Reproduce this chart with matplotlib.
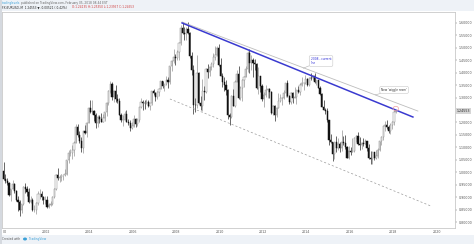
import numpy as np
import pandas as pd
import matplotlib
matplotlib.use("Agg")
import matplotlib.pyplot as plt
import matplotlib.transforms as mtransforms
from matplotlib.patches import Rectangle, Ellipse

# EURUSD monthly candles, Jan 2000 - Feb 2018
dates = pd.date_range("2000-01-01", "2018-02-01", freq="MS")

opens = [
    1.007, 0.971, 0.965, 0.956, 0.910, 0.933, 0.953, 0.926, 0.887, 0.882, 0.848, 0.872,
    0.940, 0.931, 0.921, 0.880, 0.887, 0.847, 0.850, 0.877, 0.911, 0.911, 0.900, 0.888,
    0.890, 0.859, 0.868, 0.873, 0.901, 0.934, 0.987, 0.978, 0.982, 0.987, 0.989, 0.995,
    1.049, 1.077, 1.078, 1.091, 1.117, 1.180, 1.149, 1.124, 1.097, 1.165, 1.158, 1.199,
    1.259, 1.244, 1.245, 1.230, 1.196, 1.221, 1.216, 1.203, 1.218, 1.243, 1.277, 1.327,
    1.356, 1.304, 1.326, 1.296, 1.287, 1.230, 1.210, 1.212, 1.234, 1.203, 1.199, 1.179,
    1.184, 1.215, 1.193, 1.212, 1.262, 1.281, 1.279, 1.277, 1.281, 1.268, 1.277, 1.325,
    1.320, 1.303, 1.323, 1.335, 1.366, 1.345, 1.354, 1.369, 1.364, 1.426, 1.448, 1.464,
    1.459, 1.484, 1.518, 1.579, 1.561, 1.555, 1.575, 1.561, 1.467, 1.409, 1.272, 1.270,
    1.397, 1.280, 1.267, 1.325, 1.323, 1.415, 1.403, 1.424, 1.434, 1.464, 1.472, 1.500,
    1.433, 1.387, 1.362, 1.351, 1.330, 1.229, 1.222, 1.305, 1.267, 1.363, 1.394, 1.299,
    1.338, 1.369, 1.381, 1.416, 1.481, 1.438, 1.450, 1.439, 1.436, 1.339, 1.386, 1.346,
    1.296, 1.309, 1.332, 1.334, 1.324, 1.237, 1.267, 1.231, 1.258, 1.286, 1.297, 1.299,
    1.319, 1.358, 1.306, 1.282, 1.317, 1.300, 1.301, 1.330, 1.322, 1.352, 1.358, 1.359,
    1.374, 1.349, 1.380, 1.377, 1.387, 1.363, 1.369, 1.339, 1.313, 1.263, 1.252, 1.245,
    1.210, 1.129, 1.120, 1.073, 1.122, 1.099, 1.115, 1.098, 1.121, 1.118, 1.100, 1.057,
    1.086, 1.083, 1.087, 1.138, 1.145, 1.113, 1.110, 1.117, 1.115, 1.124, 1.098, 1.059,
    1.052, 1.080, 1.057, 1.065, 1.090, 1.124, 1.142, 1.184, 1.191, 1.181, 1.165, 1.190,
    1.201, 1.241,
]
highs = [
    1.041, 0.993, 0.978, 0.962, 0.934, 0.969, 0.955, 0.930, 0.904, 0.888, 0.874, 0.945,
    0.958, 0.944, 0.935, 0.903, 0.898, 0.870, 0.880, 0.925, 0.931, 0.923, 0.904, 0.905,
    0.904, 0.876, 0.884, 0.905, 0.936, 0.995, 1.019, 0.989, 0.995, 0.990, 1.015, 1.050,
    1.088, 1.094, 1.109, 1.124, 1.193, 1.193, 1.167, 1.140, 1.166, 1.189, 1.200, 1.263,
    1.290, 1.290, 1.250, 1.240, 1.229, 1.232, 1.240, 1.233, 1.244, 1.281, 1.330, 1.367,
    1.363, 1.329, 1.349, 1.316, 1.297, 1.237, 1.229, 1.248, 1.252, 1.216, 1.208, 1.202,
    1.229, 1.218, 1.218, 1.264, 1.298, 1.290, 1.291, 1.296, 1.292, 1.280, 1.327, 1.336,
    1.324, 1.327, 1.337, 1.368, 1.368, 1.355, 1.385, 1.383, 1.427, 1.450, 1.497, 1.477,
    1.490, 1.522, 1.590, 1.602, 1.585, 1.585, 1.604, 1.565, 1.482, 1.431, 1.300, 1.472,
    1.401, 1.306, 1.374, 1.346, 1.418, 1.434, 1.427, 1.445, 1.478, 1.508, 1.507, 1.514,
    1.458, 1.397, 1.381, 1.372, 1.334, 1.237, 1.311, 1.333, 1.369, 1.412, 1.428, 1.347,
    1.375, 1.386, 1.425, 1.488, 1.494, 1.470, 1.458, 1.455, 1.440, 1.422, 1.387, 1.356,
    1.323, 1.349, 1.339, 1.338, 1.325, 1.269, 1.269, 1.263, 1.317, 1.314, 1.302, 1.331,
    1.360, 1.371, 1.311, 1.324, 1.324, 1.342, 1.331, 1.345, 1.358, 1.383, 1.361, 1.389,
    1.377, 1.383, 1.397, 1.392, 1.399, 1.370, 1.370, 1.345, 1.320, 1.290, 1.259, 1.257,
    1.212, 1.153, 1.122, 1.122, 1.147, 1.139, 1.121, 1.171, 1.146, 1.150, 1.105, 1.104,
    1.100, 1.139, 1.140, 1.148, 1.162, 1.143, 1.120, 1.137, 1.133, 1.127, 1.112, 1.087,
    1.082, 1.083, 1.091, 1.097, 1.127, 1.145, 1.185, 1.207, 1.209, 1.188, 1.196, 1.204,
    1.254, 1.250,
]
lows = [
    0.970, 0.957, 0.950, 0.905, 0.884, 0.931, 0.917, 0.883, 0.845, 0.823, 0.836, 0.868,
    0.918, 0.906, 0.876, 0.876, 0.843, 0.840, 0.834, 0.870, 0.893, 0.887, 0.874, 0.873,
    0.858, 0.856, 0.864, 0.870, 0.898, 0.930, 0.970, 0.962, 0.966, 0.969, 0.985, 0.989,
    1.037, 1.067, 1.054, 1.065, 1.117, 1.140, 1.116, 1.080, 1.078, 1.155, 1.140, 1.196,
    1.239, 1.236, 1.205, 1.176, 1.180, 1.199, 1.200, 1.201, 1.205, 1.226, 1.272, 1.317,
    1.290, 1.282, 1.284, 1.277, 1.230, 1.200, 1.187, 1.210, 1.200, 1.188, 1.164, 1.172,
    1.181, 1.183, 1.187, 1.203, 1.259, 1.251, 1.253, 1.274, 1.262, 1.252, 1.272, 1.311,
    1.287, 1.293, 1.306, 1.333, 1.339, 1.328, 1.350, 1.337, 1.356, 1.406, 1.441, 1.431,
    1.451, 1.450, 1.513, 1.554, 1.531, 1.530, 1.554, 1.458, 1.390, 1.233, 1.242, 1.257,
    1.274, 1.252, 1.246, 1.289, 1.318, 1.378, 1.385, 1.409, 1.421, 1.452, 1.466, 1.425,
    1.385, 1.343, 1.327, 1.312, 1.214, 1.188, 1.217, 1.266, 1.264, 1.362, 1.296, 1.292,
    1.286, 1.343, 1.381, 1.402, 1.399, 1.409, 1.384, 1.410, 1.336, 1.315, 1.322, 1.286,
    1.262, 1.303, 1.298, 1.300, 1.236, 1.229, 1.204, 1.224, 1.257, 1.281, 1.269, 1.294,
    1.303, 1.303, 1.274, 1.275, 1.279, 1.297, 1.275, 1.317, 1.311, 1.348, 1.329, 1.353,
    1.348, 1.346, 1.369, 1.370, 1.358, 1.350, 1.339, 1.310, 1.261, 1.250, 1.236, 1.203,
    1.110, 1.118, 1.046, 1.053, 1.082, 1.088, 1.081, 1.087, 1.110, 1.094, 1.056, 1.052,
    1.071, 1.081, 1.082, 1.122, 1.110, 1.091, 1.095, 1.105, 1.112, 1.085, 1.055, 1.034,
    1.034, 1.049, 1.054, 1.057, 1.084, 1.111, 1.131, 1.166, 1.173, 1.157, 1.155, 1.172,
    1.191, 1.240,
]
closes = [
    0.971, 0.965, 0.956, 0.910, 0.933, 0.953, 0.926, 0.887, 0.882, 0.848, 0.872, 0.940,
    0.931, 0.921, 0.880, 0.887, 0.847, 0.850, 0.877, 0.911, 0.911, 0.900, 0.888, 0.890,
    0.859, 0.868, 0.873, 0.901, 0.934, 0.987, 0.978, 0.982, 0.987, 0.989, 0.995, 1.049,
    1.077, 1.078, 1.091, 1.117, 1.180, 1.149, 1.124, 1.097, 1.165, 1.158, 1.199, 1.259,
    1.244, 1.245, 1.230, 1.196, 1.221, 1.216, 1.203, 1.218, 1.243, 1.277, 1.327, 1.356,
    1.304, 1.326, 1.296, 1.287, 1.230, 1.210, 1.212, 1.234, 1.203, 1.199, 1.179, 1.184,
    1.215, 1.193, 1.212, 1.262, 1.281, 1.279, 1.277, 1.281, 1.268, 1.277, 1.325, 1.320,
    1.303, 1.323, 1.335, 1.366, 1.345, 1.354, 1.369, 1.364, 1.426, 1.448, 1.464, 1.459,
    1.484, 1.518, 1.579, 1.561, 1.555, 1.575, 1.561, 1.467, 1.409, 1.272, 1.270, 1.397,
    1.280, 1.267, 1.325, 1.323, 1.415, 1.403, 1.424, 1.434, 1.464, 1.472, 1.500, 1.433,
    1.387, 1.362, 1.351, 1.330, 1.229, 1.222, 1.305, 1.267, 1.363, 1.394, 1.299, 1.338,
    1.369, 1.381, 1.416, 1.481, 1.438, 1.450, 1.439, 1.436, 1.339, 1.386, 1.346, 1.296,
    1.309, 1.332, 1.334, 1.324, 1.237, 1.267, 1.231, 1.258, 1.286, 1.297, 1.299, 1.319,
    1.358, 1.306, 1.282, 1.317, 1.300, 1.301, 1.330, 1.322, 1.352, 1.358, 1.359, 1.374,
    1.349, 1.380, 1.377, 1.387, 1.363, 1.369, 1.339, 1.313, 1.263, 1.252, 1.245, 1.210,
    1.129, 1.120, 1.073, 1.122, 1.099, 1.115, 1.098, 1.121, 1.118, 1.100, 1.057, 1.086,
    1.083, 1.087, 1.138, 1.145, 1.113, 1.110, 1.117, 1.115, 1.124, 1.098, 1.059, 1.052,
    1.080, 1.057, 1.065, 1.090, 1.124, 1.142, 1.184, 1.191, 1.181, 1.165, 1.190, 1.201,
    1.241, 1.2455,
]

# trend lines drawn on the chart (decimal year, price)
blue_line_x = [2008.27, 2018.91]
blue_line_y = [1.600, 1.222]
wiggle_line_x = [2008.27, 2019.14]
wiggle_line_y = [1.604, 1.246]
lower_line_x = [2007.71, 2019.74]
lower_line_y = [1.2945, 0.8643]

price_ticks = [1.60, 1.55, 1.50, 1.45, 1.40, 1.35, 1.30, 1.20, 1.15,
               1.10, 1.05, 1.00, 0.95, 0.90, 0.85, 0.80]
year_ticks = list(range(2000, 2021, 2))
year_labels = ["00"] + [str(y) for y in year_ticks[1:]]
last_price = 1.24553

W, H = 474, 244
fig = plt.figure(figsize=(W / 100, H / 100), dpi=100)
fig.patch.set_facecolor("white")

# header and footer bands
fig.add_artist(Rectangle((0, 1 - 11 / H), 1, 11 / H, transform=fig.transFigure,
                         facecolor="#eef2f7", edgecolor="none", zorder=0))
fig.add_artist(Rectangle((0, 0), 1, 9 / H, transform=fig.transFigure,
                         facecolor="#eef2f7", edgecolor="none", zorder=0))
fig.add_artist(Rectangle((0, 0), 1.5 / W, 1, transform=fig.transFigure,
                         facecolor="#d5d9df", edgecolor="none", zorder=0))

ax = fig.add_axes([2 / W, 16 / H, 453 / W, 216 / H])
ax.set_facecolor("white")

x = np.asarray(dates.year + (dates.month - 0.5) / 12, dtype=float)
o = np.array(opens)
h = np.array(highs)
l = np.array(lows)
c = np.array(closes)
up = c >= o

wick_col = np.where(up, "#8a8a8a", "#111111")
ax.vlines(x, l, h, colors=wick_col, linewidth=0.45, zorder=2)
body_w = 0.055
ax.bar(x[up], (c - o)[up], bottom=o[up], width=body_w, facecolor="white",
       edgecolor="#8a8a8a", linewidth=0.35, zorder=3)
ax.bar(x[~up], (c - o)[~up], bottom=o[~up], width=body_w, facecolor="#111111",
       edgecolor="#111111", linewidth=0.35, zorder=3)

# trend lines
ax.plot(wiggle_line_x, wiggle_line_y, color="#bdbdbd", linewidth=0.6, zorder=4)
ax.plot(blue_line_x, blue_line_y, color="#3a3ad0", linewidth=1.1, zorder=5)
ax.plot(lower_line_x, lower_line_y, color="#9a9a9a", linewidth=0.5,
        linestyle=(0, (3, 3)), zorder=4)

# touch highlight at the last candle
ax.add_patch(Ellipse((2018.12, 1.256), 0.25, 0.018, facecolor="none",
                     edgecolor="#f0a0a0", linewidth=0.5, zorder=6))

# callouts
box = dict(boxstyle="round,pad=0.5", facecolor="white", edgecolor="#c8c8c8", linewidth=0.4)
ax.annotate("2008 - current\nline", xy=(2013.85, 1.418), xytext=(2014.2, 1.447),
            fontsize=2.1, color="#2b2bd6", ha="left", va="center", bbox=box,
            linespacing=1.0, zorder=7,
            arrowprops=dict(arrowstyle="-", color="#b0b0b0", linewidth=0.4,
                            shrinkA=0, shrinkB=0))
ax.annotate("New 'wiggle room'", xy=(2017.17, 1.311), xytext=(2017.45, 1.331),
            fontsize=2.1, color="#333333", ha="left", va="center", bbox=box,
            zorder=7,
            arrowprops=dict(arrowstyle="-", color="#b0b0b0", linewidth=0.4,
                            shrinkA=0, shrinkB=0))

ax.set_xlim(1999.97, 2020.85)
ax.set_ylim(0.776, 1.644)

ax.yaxis.tick_right()
ax.set_yticks(price_ticks)
ax.set_yticklabels([f"{v:.5f}" for v in price_ticks])
ax.set_xticks(year_ticks)
ax.set_xticklabels(year_labels)
ax.get_xticklabels()[0].set_horizontalalignment("left")
ax.tick_params(axis="y", labelsize=2.3, colors="#555555", length=1.2, width=0.3, pad=1.2)
ax.tick_params(axis="x", labelsize=2.3, colors="#555555", length=0, pad=1.5)
for s in ax.spines.values():
    s.set_color("#c9c9c9")
    s.set_linewidth(0.6)

trans = mtransforms.blended_transform_factory(ax.transAxes, ax.transData)
ax.text(1.004, last_price, f"{last_price:.5f}", transform=trans, fontsize=2.3,
        color="#222222", ha="left", va="center", zorder=8, clip_on=False,
        bbox=dict(boxstyle="square,pad=0.25", facecolor="#d6d6d6", edgecolor="none"))

# header texts
fs = 2.1
fig.text(2 / W, 1 - 3 / H, "tradinglevels", fontsize=fs, color="#3aa0d8", va="center")
fig.text(21 / W, 1 - 3 / H, "published on TradingView.com, February 05, 2018 08:44 EST",
         fontsize=fs, color="#666666", va="center")
fig.text(2 / W, 1 - 7.5 / H, "FX:EURUSD, M  1.24553 \u25bc -0.00521 (-0.42%)",
         fontsize=fs, color="#222222", va="center")
fig.text(72 / W, 1 - 7.5 / H, "O:1.24135 H:1.25350 L:1.23957 C:1.24553",
         fontsize=fs, color="#d03a3a", va="center")

# footer
fig.text(2 / W, 5 / H, "Created with", fontsize=fs, color="#555555", va="center")
fig.add_artist(Ellipse((25 / W, 5 / H), 4 / W, 3 / H, transform=fig.transFigure,
                       facecolor="#3aa0d8", edgecolor="none"))
fig.text(29 / W, 5 / H, "TradingView", fontsize=fs, color="#3aa0d8", va="center")

fig.savefig("out.png", dpi=100, facecolor=fig.get_facecolor())
